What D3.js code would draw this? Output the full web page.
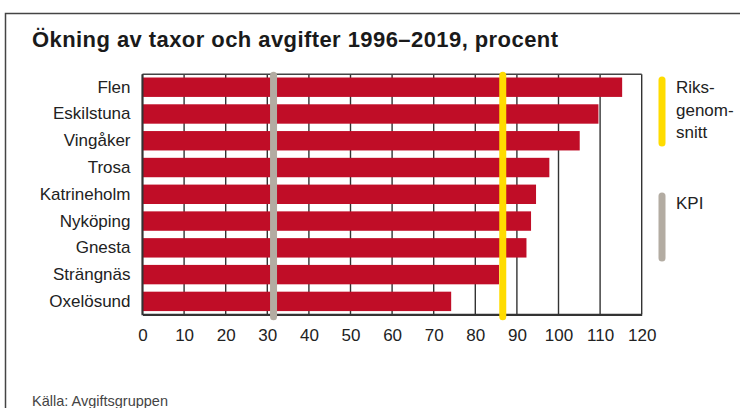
<!DOCTYPE html>
<html>
<head>
<meta charset="utf-8">
<script src="https://cdn.jsdelivr.net/npm/d3@7"></script>
<style>
  body { margin: 0; background: #fff; }
  svg { display: block; font-family: "Liberation Sans", Arial, sans-serif; }
</style>
</head>
<body>
<div id="chart"></div>
<script>
const municipalities = ['Flen', 'Eskilstuna', 'Vingåker', 'Trosa', 'Katrineholm', 'Nyköping', 'Gnesta', 'Strängnäs', 'Oxelösund'];
const increase = [115.3, 109.6, 105.1, 97.8, 94.6, 93.4, 92.3, 85.7, 74.2];
const xTicks = [0, 10, 20, 30, 40, 50, 60, 70, 80, 90, 100, 110, 120];
const refNames = ['Riksgenomsnitt', 'KPI'];
const refValues = [86.6, 31.5];

const width = 740, height = 408;
const plotLeft = 142.5, plotRight = 641.7, plotTop = 74.3, plotBottom = 314.3;

const svg = d3.select('#chart').append('svg')
    .attr('width', width)
    .attr('height', height);

// frame
svg.append('path')
    .attr('d', 'M5.5,408 V13.5 H740')
    .attr('fill', 'none')
    .attr('stroke', '#444')
    .attr('stroke-width', 1.5);

svg.append('text')
    .attr('x', 32).attr('y', 47)
    .attr('font-size', 22).attr('font-weight', 'bold')
    .attr('textLength', 526).attr('lengthAdjust', 'spacing')
    .attr('fill', '#1a1a1a')
    .text('Ökning av taxor och avgifter 1996–2019, procent');

const x = d3.scaleLinear().domain([0, 120]).range([plotLeft, plotRight]);
const y = d3.scaleBand().domain(municipalities).range([plotTop, plotBottom])
    .paddingInner(0.275).paddingOuter(0.12);

// grid
svg.append('g')
    .selectAll('line')
    .data(xTicks)
    .join('line')
    .attr('x1', d => x(d)).attr('x2', d => x(d))
    .attr('y1', plotTop).attr('y2', plotBottom)
    .attr('stroke', '#333')
    .attr('stroke-width', 1.4);

svg.append('line')
    .attr('x1', plotLeft).attr('x2', plotRight).attr('y1', plotTop).attr('y2', plotTop)
    .attr('stroke', '#444').attr('stroke-width', 1.4);

// bars
svg.append('g')
    .selectAll('rect')
    .data(municipalities)
    .join('rect')
    .attr('x', x(0))
    .attr('y', d => y(d))
    .attr('width', (d, i) => x(increase[i]) - x(0))
    .attr('height', y.bandwidth())
    .attr('fill', '#c00d27');

svg.append('line')
    .attr('x1', plotLeft).attr('x2', plotLeft).attr('y1', plotTop).attr('y2', plotBottom + 1)
    .attr('stroke', '#333').attr('stroke-width', 2);

// x axis
const xAxis = svg.append('g')
    .attr('transform', `translate(0,${plotBottom})`)
    .call(d3.axisBottom(x).tickValues(xTicks).tickSize(0).tickPadding(15));
xAxis.select('.domain').attr('stroke', '#333').attr('stroke-width', 2.2);
xAxis.selectAll('text')
    .attr('font-size', 17)
    .attr('font-family', '"Liberation Sans", Arial, sans-serif')
    .attr('fill', '#222');

// y labels
const yAxis = svg.append('g')
    .attr('transform', `translate(${plotLeft},0)`)
    .call(d3.axisLeft(y).tickSize(0).tickPadding(12));
yAxis.select('.domain').remove();
yAxis.selectAll('text')
    .attr('font-size', 17)
    .attr('font-family', '"Liberation Sans", Arial, sans-serif')
    .attr('fill', '#222');

// reference lines
const refColors = ['#ffdc00', '#b3aca2'];
svg.append('g')
    .selectAll('line')
    .data(refValues)
    .join('line')
    .attr('x1', d => x(d)).attr('x2', d => x(d))
    .attr('y1', plotTop + 1).attr('y2', plotBottom + 2.5)
    .attr('stroke', (d, i) => refColors[i])
    .attr('stroke-width', 7)
    .attr('stroke-linecap', 'round');

// legend
const legend = [
  { lines: ['Riks-', 'genom-', 'snitt'], y0: 80, y1: 143, color: refColors[0] },
  { lines: ['KPI'], y0: 196, y1: 258, color: refColors[1] }
];
const lg = svg.append('g');
legend.forEach(l => {
  lg.append('line')
    .attr('x1', 662).attr('x2', 662)
    .attr('y1', l.y0).attr('y2', l.y1)
    .attr('stroke', l.color).attr('stroke-width', 7)
    .attr('stroke-linecap', 'round');
  l.lines.forEach((t, i) => {
    lg.append('text')
      .attr('x', 676).attr('y', l.y0 + 13 + i * 22.5)
      .attr('font-size', 17).attr('fill', '#222')
      .text(t);
  });
});

svg.append('text')
    .attr('x', 32).attr('y', 406)
    .attr('font-size', 14.5).attr('fill', '#444')
    .text('Källa: Avgiftsgruppen');
</script>
</body>
</html>
